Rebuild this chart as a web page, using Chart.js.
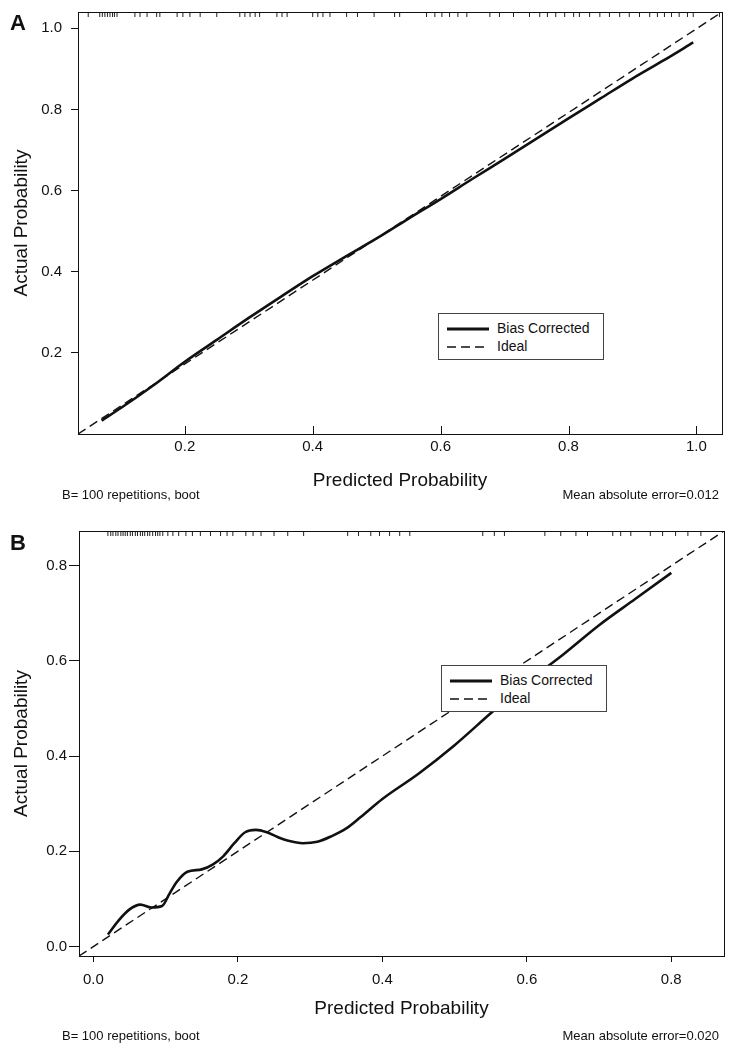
<!DOCTYPE html>
<html>
<head>
<meta charset="utf-8">
<script src="https://cdn.jsdelivr.net/npm/chart.js@4.4.1/dist/chart.umd.min.js"></script>
<style>
  html, body { margin: 0; padding: 0; background: #fff; }
  body { width: 734px; height: 1050px; position: relative; overflow: hidden; font-family: "Liberation Sans", Arial, sans-serif; color: #111; }
  .panel { position: absolute; left: 0; width: 734px; height: 525px; }
  canvas { display: block; }
  .lbl { position: absolute; white-space: nowrap; line-height: 1; }
  .letter { font-weight: bold; font-size: 22px; }
  .note { font-size: 13px; }
  .legend { position: absolute; border: 1px solid #444; background: #fff; width: 164px; height: 45px; }
  .legend .row { position: absolute; left: 8px; font-size: 14px; line-height: 1; white-space: nowrap; }
  .legend svg { vertical-align: middle; margin-right: 8px; }
</style>
</head>
<body>
<div class="panel" style="top:0"><canvas id="cA" width="734" height="525"></canvas></div>
<div class="panel" style="top:525px"><canvas id="cB" width="734" height="525"></canvas></div>

<div class="lbl letter" style="left:10px;top:12px">A</div>
<div class="lbl letter" style="left:10px;top:532px">B</div>
<div class="lbl note" style="left:62px;top:488px">B= 100 repetitions, boot</div>
<div class="lbl note" style="right:15px;top:488px">Mean absolute error=0.012</div>
<div class="lbl note" style="left:62px;top:1029px">B= 100 repetitions, boot</div>
<div class="lbl note" style="right:15px;top:1029px">Mean absolute error=0.020</div>

<div class="legend" style="left:438px;top:313px">
  <div class="row" style="top:7px"><svg width="42" height="6"><line x1="0" y1="3" x2="42" y2="3" stroke="#111" stroke-width="2.8"/></svg>Bias Corrected</div>
  <div class="row" style="top:25px"><svg width="42" height="6"><line x1="0" y1="3" x2="42" y2="3" stroke="#111" stroke-width="1.4" stroke-dasharray="9,5"/></svg>Ideal</div>
</div>
<div class="legend" style="left:441px;top:665px">
  <div class="row" style="top:7px"><svg width="42" height="6"><line x1="0" y1="3" x2="42" y2="3" stroke="#111" stroke-width="2.8"/></svg>Bias Corrected</div>
  <div class="row" style="top:25px"><svg width="42" height="6"><line x1="0" y1="3" x2="42" y2="3" stroke="#111" stroke-width="1.4" stroke-dasharray="9,5"/></svg>Ideal</div>
</div>

<script>
// ---------- Panel A data ----------
const aRangeX = [0.033, 1.04];
const aRangeY = [0.0, 1.04];
const aBiasX = [0.07, 0.10, 0.15, 0.20, 0.25, 0.30, 0.35, 0.40, 0.45, 0.50, 0.55, 0.60, 0.65, 0.70, 0.75, 0.80, 0.85, 0.90, 0.95, 0.995];
const aBiasY = [0.033, 0.064, 0.119, 0.178, 0.232, 0.286, 0.338, 0.389, 0.436, 0.482, 0.531, 0.579, 0.629, 0.678, 0.728, 0.778, 0.827, 0.876, 0.922, 0.965];
const aIdealX = [0.033, 1.04];
const aIdealY = [0.0, 1.04];
const aRug = [0.049, 0.067, 0.071, 0.075, 0.079, 0.083, 0.087, 0.090, 0.094, 0.122, 0.130, 0.141, 0.156, 0.161, 0.188, 0.197, 0.208, 0.224, 0.250, 0.286, 0.294, 0.302, 0.310, 0.317, 0.344, 0.352, 0.360, 0.400, 0.408, 0.416, 0.427, 0.453, 0.470,
  0.496, 0.528, 0.536, 0.578, 0.591, 0.602, 0.614, 0.627, 0.641, 0.677, 0.692, 0.714, 0.739, 0.755, 0.767, 0.780, 0.794, 0.808, 0.817, 0.833, 0.849, 0.864, 0.880, 0.895, 0.911, 0.927, 0.939, 0.950, 0.961, 0.973, 0.986, 0.995, 1.036];
const aXTicks = [0.2, 0.4, 0.6, 0.8, 1.0];
const aYTicks = [0.2, 0.4, 0.6, 0.8, 1.0];

// ---------- Panel B data ----------
const bRangeX = [-0.02, 0.873];
const bRangeY = [-0.02, 0.873];
const bBiasX = [0.02, 0.035, 0.05, 0.065, 0.08, 0.095, 0.105, 0.115, 0.13, 0.15, 0.165, 0.18, 0.195, 0.21, 0.225, 0.24, 0.255, 0.27, 0.29, 0.31, 0.33, 0.35, 0.37, 0.40, 0.45, 0.50, 0.55, 0.60, 0.65, 0.70, 0.75, 0.80];
const bBiasY = [0.025, 0.055, 0.078, 0.088, 0.082, 0.085, 0.110, 0.135, 0.157, 0.162, 0.172, 0.190, 0.217, 0.240, 0.245, 0.240, 0.230, 0.222, 0.217, 0.220, 0.232, 0.248, 0.272, 0.310, 0.363, 0.423, 0.490, 0.555, 0.613, 0.675, 0.730, 0.785];
const bIdealX = [-0.02, 0.873];
const bIdealY = [-0.02, 0.873];
const bRug = [0.020, 0.024, 0.027, 0.031, 0.034, 0.038, 0.041, 0.044, 0.047, 0.051, 0.054, 0.058, 0.061, 0.065, 0.068, 0.071, 0.075, 0.078, 0.082, 0.086, 0.089, 0.092, 0.096, 0.103, 0.110, 0.118, 0.128, 0.137, 0.148, 0.162, 0.176, 0.185, 0.193, 0.211, 0.221, 0.232, 0.250, 0.269, 0.291, 0.352, 0.367,
  0.384, 0.396, 0.410, 0.424, 0.438, 0.539, 0.555, 0.569, 0.625, 0.647, 0.668, 0.684, 0.719, 0.730, 0.744, 0.771, 0.788, 0.806, 0.823, 0.841];
const bXTicks = [0.0, 0.2, 0.4, 0.6, 0.8];
const bYTicks = [0.0, 0.2, 0.4, 0.6, 0.8];

const INK = '#111';
const FONT = "'Liberation Sans', Arial, sans-serif";

const pts = (xs, ys) => xs.map((x, i) => ({x, y: ys[i]}));

const boxPlugin = {
  id: 'box',
  afterDraw(chart, args, opts) {
    const {ctx, chartArea: a} = chart;
    ctx.save();
    ctx.strokeStyle = INK;
    ctx.lineWidth = 1;
    ctx.strokeRect(Math.round(a.left) + 0.5, Math.round(a.top) + 0.5, Math.round(a.right - a.left), Math.round(a.bottom - a.top));
    if (opts && opts.insideTicks) {
      const xs = chart.scales.x;
      ctx.beginPath();
      xs.ticks.forEach(t => {
        const px = Math.round(xs.getPixelForValue(t.value)) + 0.5;
        ctx.moveTo(px, a.bottom);
        ctx.lineTo(px, a.bottom - 8);
      });
      ctx.stroke();
    }
    ctx.restore();
  }
};

function makeChart(id, c) {
  const rugData = c.rug.map(v => ({x: v, y: c.rangeY[1]}));
  return new Chart(document.getElementById(id), {
    type: 'scatter',
    data: {
      datasets: [
        { label: 'Ideal', data: pts(c.ix, c.iy), showLine: true, borderColor: INK, borderWidth: 1.4, borderDash: [9, 5], pointRadius: 0, fill: false },
        { label: 'Bias Corrected', data: pts(c.bx, c.by), showLine: true, borderColor: INK, borderWidth: 2.6, pointRadius: 0, cubicInterpolationMode: 'monotone', fill: false },
        { label: 'rug', data: rugData, showLine: false, pointStyle: 'line', rotation: 90, pointRadius: 5, pointBorderWidth: 1, borderColor: '#222', backgroundColor: '#222' }
      ]
    },
    options: {
      responsive: false,
      animation: false,
      devicePixelRatio: 1,
      layout: { padding: { top: c.padTop, right: c.padRight, left: 0, bottom: 0 } },
      plugins: { legend: { display: false }, tooltip: { enabled: false }, box: { insideTicks: c.insideTicks } },
      scales: {
        x: {
          type: 'linear', min: c.rangeX[0], max: c.rangeX[1],
          afterBuildTicks: s => { s.ticks = c.xTicks.map(v => ({value: v})); },
          afterFit: s => { s.height = c.xAxisH; s.paddingLeft = 0; s.paddingRight = 0; },
          grid: { drawOnChartArea: false, drawTicks: !c.insideTicks, tickLength: c.xTickLen, color: INK },
          border: { display: true, color: INK, width: 1 },
          ticks: { autoSkip: false, maxRotation: 0, padding: c.xTickPad, color: INK, font: { family: FONT, size: 15 }, callback: v => Number(v).toFixed(1) },
          title: { display: true, text: 'Predicted Probability', color: INK, font: { family: FONT, size: 19 }, padding: { top: 0, bottom: c.xTitlePad } }
        },
        y: {
          type: 'linear', min: c.rangeY[0], max: c.rangeY[1],
          afterBuildTicks: s => { s.ticks = c.yTicks.map(v => ({value: v})); },
          afterFit: s => { s.width = c.yAxisW; s.paddingTop = 0; s.paddingBottom = 0; },
          grid: { drawOnChartArea: false, drawTicks: true, tickLength: c.yTickLen, color: INK },
          border: { display: true, color: INK, width: 1 },
          ticks: { autoSkip: false, padding: c.yTickPad, color: INK, font: { family: FONT, size: 15 }, callback: v => Number(v).toFixed(1) },
          title: { display: true, text: 'Actual Probability', color: INK, font: { family: FONT, size: 19 }, padding: { top: 10, bottom: 0 } }
        }
      }
    },
    plugins: [boxPlugin]
  });
}

makeChart('cA', {
  bx: aBiasX, by: aBiasY, ix: aIdealX, iy: aIdealY, rug: aRug, xTicks: aXTicks, yTicks: aYTicks,
  rangeX: aRangeX, rangeY: aRangeY, padTop: 12, padRight: 12, xAxisH: 91, yAxisW: 78,
  insideTicks: true, xTickLen: 0, xTickPad: 4, xTitlePad: 33, yTickLen: 7, yTickPad: 9
});
makeChart('cB', {
  bx: bBiasX, by: bBiasY, ix: bIdealX, iy: bIdealY, rug: bRug, xTicks: bXTicks, yTicks: bYTicks,
  rangeX: bRangeX, rangeY: bRangeY, padTop: 6, padRight: 10, xAxisH: 94, yAxisW: 79,
  insideTicks: false, xTickLen: 6, xTickPad: 9, xTitlePad: 30, yTickLen: 10, yTickPad: 2
});
</script>
</body>
</html>
